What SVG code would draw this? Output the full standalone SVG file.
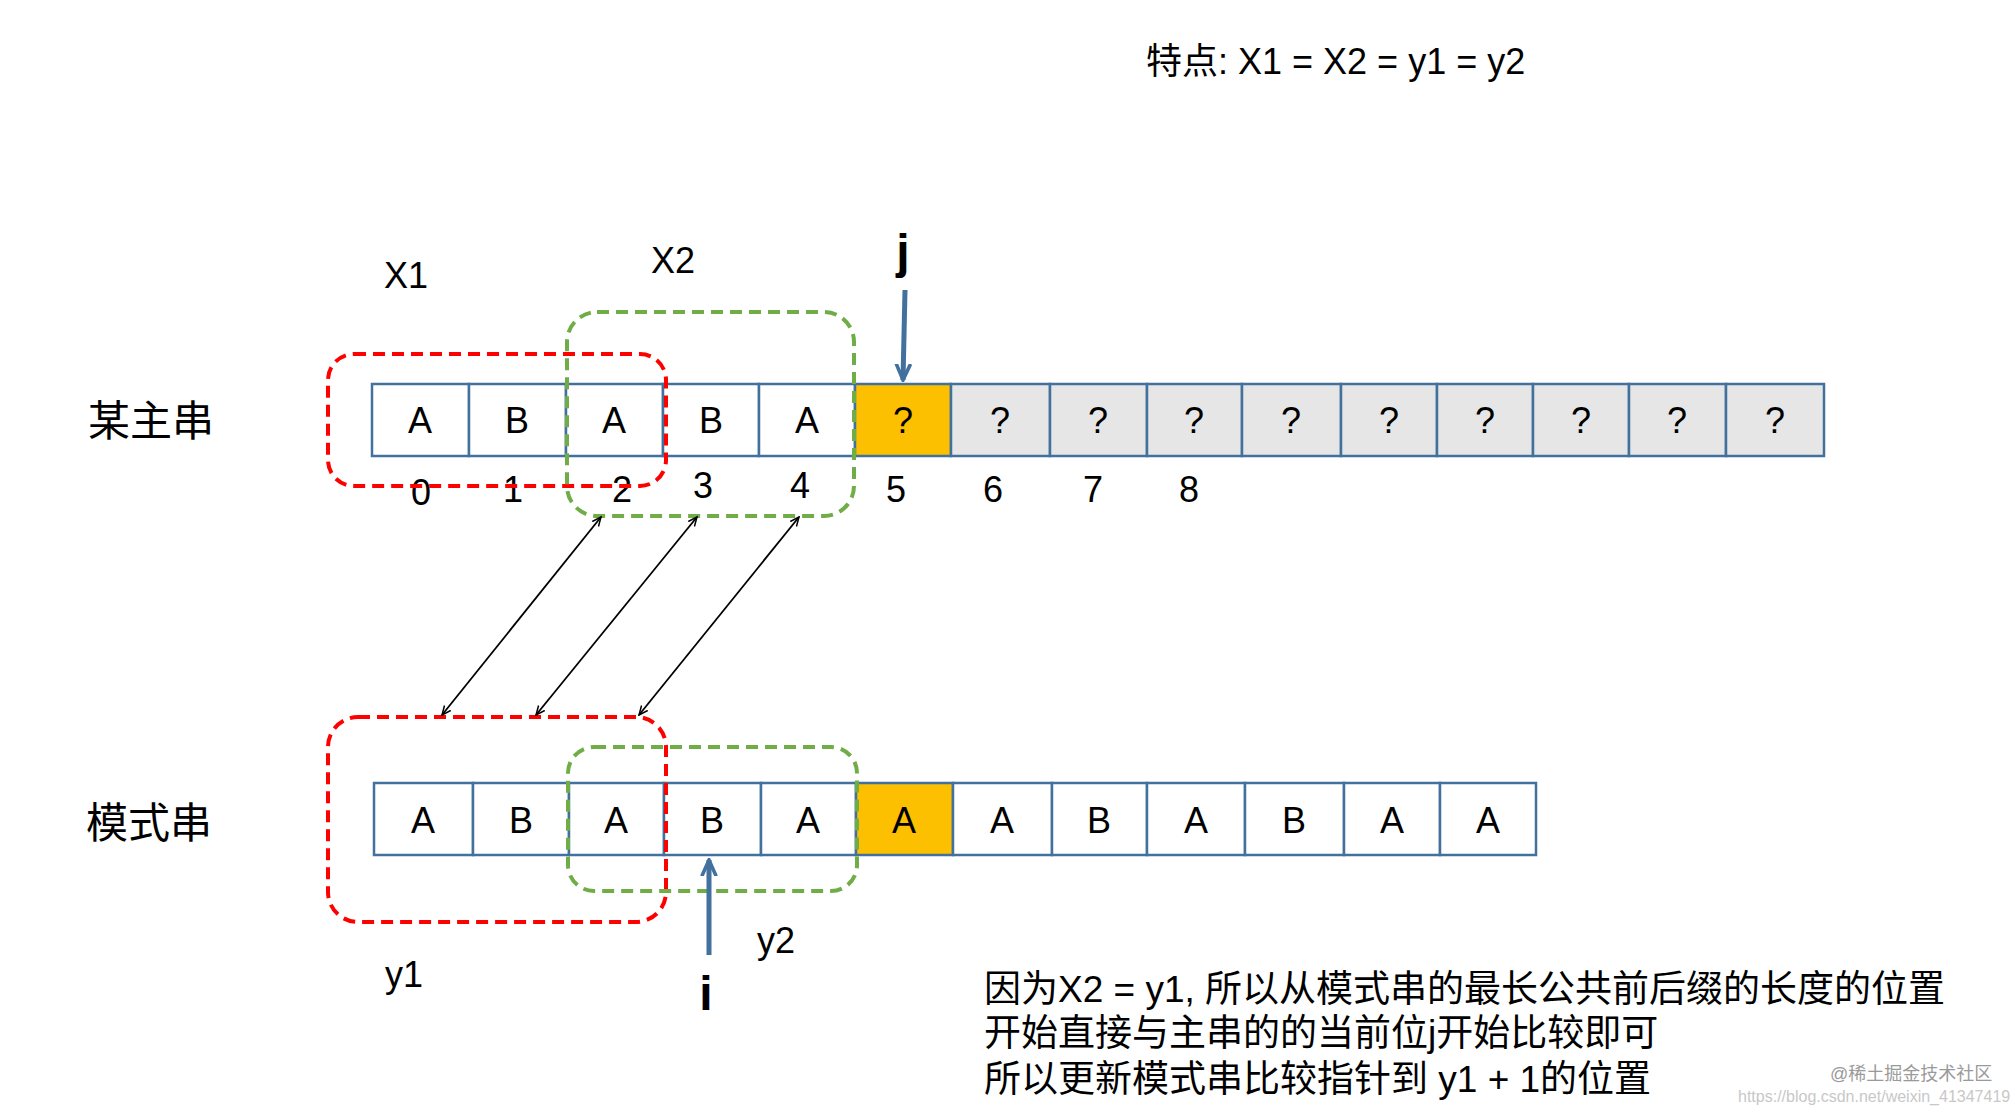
<svg xmlns="http://www.w3.org/2000/svg" width="2010" height="1108" viewBox="0 0 2010 1108">
<style>
text{font-family:"Liberation Sans","Noto Sans CJK SC",sans-serif;fill:#000}
.c{fill:#fff;stroke:#41719c;stroke-width:2.5}
.g{fill:#e6e6e6;stroke:#41719c;stroke-width:2.5}
.o{fill:#fcc000;stroke:#41719c;stroke-width:2.5}
.t{font-size:36px;text-anchor:middle}
.red{fill:none;stroke:#f00;stroke-width:4;stroke-dasharray:12 7}
.grn{fill:none;stroke:#70ad47;stroke-width:4;stroke-dasharray:12 7}
.lab{font-size:36px}
.cn{font-size:42px}
.dbl{stroke:#000;stroke-width:1.8;marker-start:url(#ah);marker-end:url(#ah)}
.blue{stroke:#41719c;stroke-width:5;marker-end:url(#bh)}
</style>
<defs>
<marker id="ah" viewBox="0 0 10 10" refX="9" refY="5" markerWidth="10" markerHeight="10" orient="auto-start-reverse" markerUnits="userSpaceOnUse"><path d="M0,1 L9,5 L0,9" fill="none" stroke="#000" stroke-width="1.5"/></marker>
<marker id="bh" viewBox="0 0 10 10" refX="9" refY="5" markerWidth="18" markerHeight="18" orient="auto" markerUnits="userSpaceOnUse"><path d="M0,1 L9,5 L0,9" fill="none" stroke="#41719c" stroke-width="2"/></marker>
</defs>
<text x="1146" y="74" font-size="36">特点: X1 = X2 = y1 = y2</text>
<text x="88" y="436" class="cn">某主串</text>
<text x="86" y="838" class="cn">模式串</text>
<g id="main">
<rect class="c" x="372" y="384" width="97" height="72"/><text class="t" x="420" y="433">A</text>
<rect class="c" x="469" y="384" width="97" height="72"/><text class="t" x="517" y="433">B</text>
<rect class="c" x="566" y="384" width="97" height="72"/><text class="t" x="614" y="433">A</text>
<rect class="c" x="663" y="384" width="96" height="72"/><text class="t" x="711" y="433">B</text>
<rect class="c" x="759" y="384" width="96" height="72"/><text class="t" x="807" y="433">A</text>
<rect class="o" x="855" y="384" width="96" height="72"/><text class="t" x="903" y="433">?</text>
<rect class="g" x="951" y="384" width="99" height="72"/><text class="t" x="1000" y="433">?</text>
<rect class="g" x="1050" y="384" width="97" height="72"/><text class="t" x="1098" y="433">?</text>
<rect class="g" x="1147" y="384" width="95" height="72"/><text class="t" x="1194" y="433">?</text>
<rect class="g" x="1242" y="384" width="99" height="72"/><text class="t" x="1291" y="433">?</text>
<rect class="g" x="1341" y="384" width="96" height="72"/><text class="t" x="1389" y="433">?</text>
<rect class="g" x="1437" y="384" width="96" height="72"/><text class="t" x="1485" y="433">?</text>
<rect class="g" x="1533" y="384" width="96" height="72"/><text class="t" x="1581" y="433">?</text>
<rect class="g" x="1629" y="384" width="97" height="72"/><text class="t" x="1677" y="433">?</text>
<rect class="g" x="1726" y="384" width="98" height="72"/><text class="t" x="1775" y="433">?</text>
</g>
<g id="idx" class="t">
<text x="421" y="505">0</text><text x="513" y="502">1</text><text x="622" y="502">2</text><text x="703" y="498">3</text><text x="800" y="498">4</text><text x="896" y="502">5</text><text x="993" y="502">6</text><text x="1093" y="502">7</text><text x="1189" y="502">8</text>
</g>
<g id="pattern">
<rect class="c" x="374" y="783" width="99" height="72"/><text class="t" x="423" y="833">A</text>
<rect class="c" x="473" y="783" width="96" height="72"/><text class="t" x="521" y="833">B</text>
<rect class="c" x="569" y="783" width="95" height="72"/><text class="t" x="616" y="833">A</text>
<rect class="c" x="664" y="783" width="97" height="72"/><text class="t" x="712" y="833">B</text>
<rect class="c" x="761" y="783" width="95" height="72"/><text class="t" x="808" y="833">A</text>
<rect class="o" x="856" y="783" width="97" height="72"/><text class="t" x="904" y="833">A</text>
<rect class="c" x="953" y="783" width="99" height="72"/><text class="t" x="1002" y="833">A</text>
<rect class="c" x="1052" y="783" width="95" height="72"/><text class="t" x="1099" y="833">B</text>
<rect class="c" x="1147" y="783" width="98" height="72"/><text class="t" x="1196" y="833">A</text>
<rect class="c" x="1245" y="783" width="99" height="72"/><text class="t" x="1294" y="833">B</text>
<rect class="c" x="1344" y="783" width="96" height="72"/><text class="t" x="1392" y="833">A</text>
<rect class="c" x="1440" y="783" width="96" height="72"/><text class="t" x="1488" y="833">A</text>
</g>
<g id="boxes">
<rect class="red" x="328" y="354" width="338" height="132" rx="26"/>
<rect class="grn" x="567" y="312" width="287" height="204" rx="30"/>
<rect class="red" x="328" y="717" width="338" height="205" rx="30"/>
<rect class="grn" x="568" y="747" width="289" height="144" rx="26"/>
</g>
<g id="connectors">
<line class="dbl" x1="442" y1="715" x2="601" y2="517"/>
<line class="dbl" x1="536" y1="715" x2="697" y2="517"/>
<line class="dbl" x1="639" y1="715" x2="799" y2="517"/>
<line class="blue" x1="905" y1="290" x2="903" y2="380"/>
<line class="blue" x1="709" y1="955" x2="709" y2="860"/>
</g>
<text x="903" y="268" font-size="48" font-weight="bold" text-anchor="middle">j</text>
<text x="706" y="1010" font-size="48" font-weight="bold" text-anchor="middle">i</text>
<text class="lab" x="384" y="288">X1</text>
<text class="lab" x="651" y="273">X2</text>
<text class="lab" x="385" y="987">y1</text>
<text class="lab" x="757" y="953">y2</text>
<g font-size="37">
<text x="984" y="1002">因为X2 = y1, 所以从模式串的最长公共前后缀的长度的位置</text>
<text x="984" y="1046">开始直接与主串的的当前位j开始比较即可</text>
<text x="984" y="1092">所以更新模式串比较指针到 y1 + 1的位置</text>
</g>
<text x="1830" y="1080" font-size="18" fill="#999" style="fill:#9a9a9a">@稀土掘金技术社区</text>
<text x="1738" y="1102" font-size="16" style="fill:#c8c8c8">https://blog.csdn.net/weixin_41347419</text>
</svg>
